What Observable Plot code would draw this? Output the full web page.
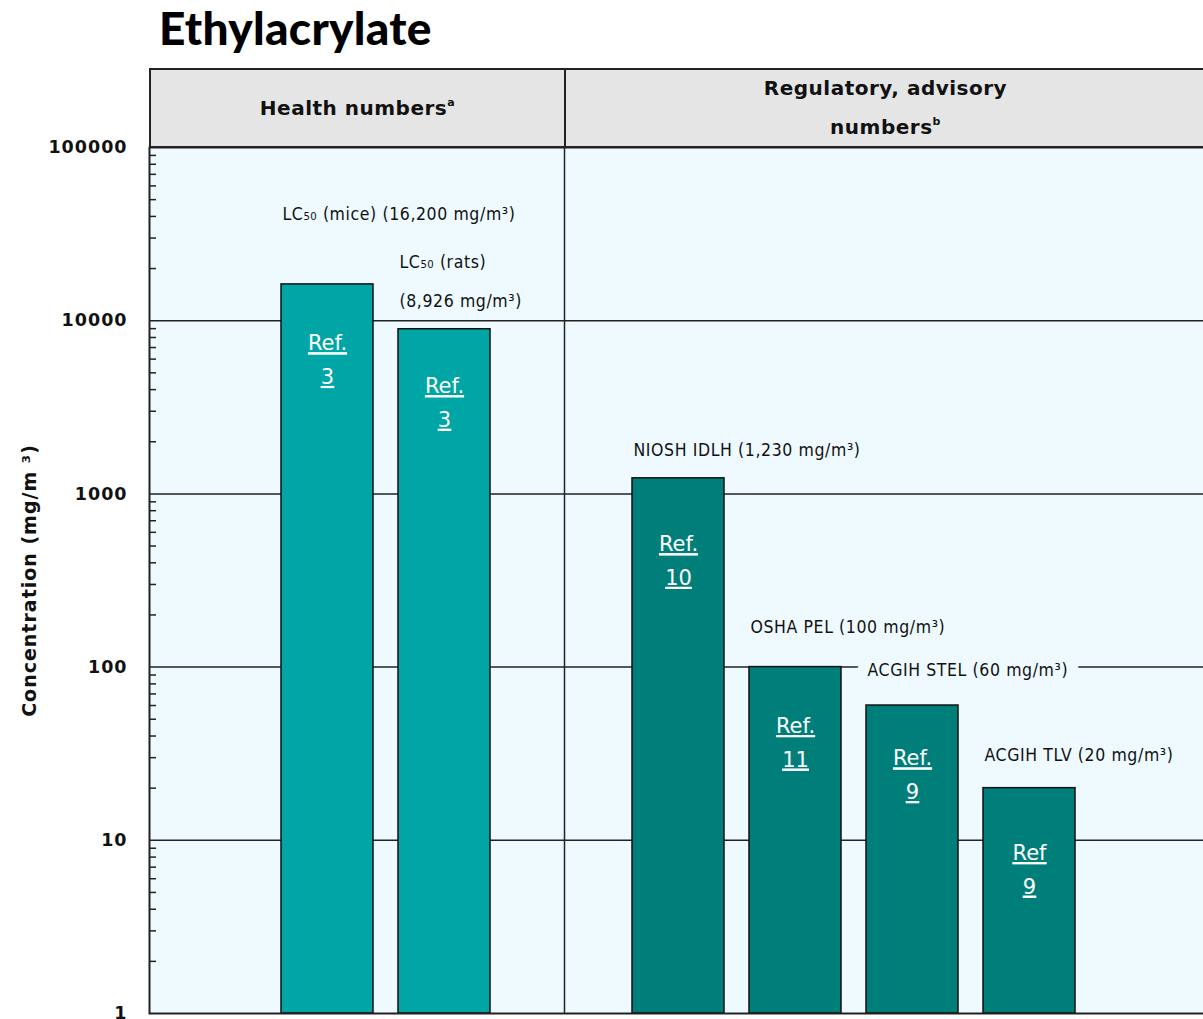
<!DOCTYPE html>
<html>
<head>
<meta charset="utf-8">
<script src="https://cdn.jsdelivr.net/npm/d3@7"></script>
<script src="https://cdn.jsdelivr.net/npm/@observablehq/plot@0.6"></script>
<style>
  html, body { margin: 0; padding: 0; background: #fff; }
  body { width: 1203px; height: 1019px; overflow: hidden; position: relative; font-family: "DejaVu Sans", sans-serif; }
  #title { position: absolute; left: 159px; top: 0px; font-family: Lato, sans-serif; font-weight: 900; font-size: 46px; color: #000; letter-spacing: 0.3px; }
  #chart { position: absolute; left: 0; top: 0; }
  #chart svg { max-width: none !important; }
  #header { position: absolute; left: 149px; top: 68px; width: 1070px; height: 80px; box-sizing: border-box;
            background: #e5e5e5; border-top: 2px solid #222; border-left: 2px solid #222; border-bottom: 2px solid #222; display: flex; }
  #header .cell { display: flex; align-items: center; justify-content: center; text-align: center;
            font-family: "DejaVu Sans", sans-serif; font-weight: bold; font-size: 20px; letter-spacing: 0.5px; line-height: 39px; color: #111; box-sizing: border-box; }
  #header .cell sup { font-size: 11px; line-height: 0; vertical-align: 9px; }
  #header .left { width: 415px; border-right: 2px solid #222; }
  #header .right { width: 639px; }
  g[fill="#fff"] text, g[fill="#fff"] tspan { text-decoration: underline; }
  g.labels text { letter-spacing: 0.6px; }
  g[font-weight="bold"] text { letter-spacing: 1px; }
</style>
</head>
<body>
<div id="title"></div>
<div id="chart"></div>
<div id="header"><div class="cell left"><span id="h0"></span></div><div class="cell right"><span id="h1"></span></div></div>
<script>
// ---- data ----
const titleText = "Ethylacrylate";
const headerTexts = ["Health numbers", "Regulatory, advisory\nnumbers"];
const headerNotes = ["a", "b"];
const categories = ["LC50 (mice)", "LC50 (rats)", "NIOSH IDLH", "OSHA PEL", "ACGIH STEL", "ACGIH TLV"];
const groups = ["Health", "Health", "Regulatory", "Regulatory", "Regulatory", "Regulatory"];
const values = [16200, 8926, 1230, 100, 60, 20];
const barLabels = [
  "LC\u2085\u2080 (mice) (16,200 mg/m\u00b3)",
  "LC\u2085\u2080 (rats)\n(8,926 mg/m\u00b3)",
  "NIOSH IDLH (1,230 mg/m\u00b3)",
  "OSHA PEL (100 mg/m\u00b3)",
  "ACGIH STEL (60 mg/m\u00b3)",
  "ACGIH TLV (20 mg/m\u00b3)"
];
const refLabels = ["Ref.\n3", "Ref.\n3", "Ref.\n10", "Ref.\n11", "Ref.\n9", "Ref\n9"];
const slots = ["pad0", "LC50 (mice)", "LC50 (rats)", "divider", "NIOSH IDLH", "OSHA PEL", "ACGIH STEL", "ACGIH TLV", "pad1"];
const dividerSlot = ["divider"];
const yTickValues = [1, 10, 100, 1000, 10000, 100000];
const gridValues = [10, 100, 1000, 10000];
const yLabel = "Concentration (mg/m \u00b3)";
const groupNames = ["Health", "Regulatory"];

// ---- layout / style (not data) ----
const groupColors = ["#00a6a6", "#007f7a"];
const labelDy = [-70, -54, -28, -40, -35, -33];
const labelLineHeight = [1, 2.2, 1, 1, 1, 1];
const refDy = [72, 70, 79, 72, 66, 78];

const minorTicks = [];
for (let k = 0; k < 5; k++) for (let m = 2; m <= 9; m++) minorTicks.push(m * Math.pow(10, k));

const data = categories.map((c, i) => ({name: c, group: groups[i], value: values[i], label: barLabels[i], ref: refLabels[i]}));

document.getElementById("title").textContent = titleText;
headerTexts.forEach((t, i) => {
  const el = document.getElementById("h" + i);
  const lines = t.split("\n");
  el.innerHTML = lines.map((l, j) => j === lines.length - 1 ? `${l}<sup>${headerNotes[i]}</sup>` : l).join("<br>");
});

const labelFont = {fontFamily: "DejaVu Sans Condensed", fontSize: 17.5, fill: "#111"};

const labelMarks = data.map((d, i) => Plot.text([d], {
  x: "name", y: "value", text: "label", className: "labels",
  textAnchor: "start", lineAnchor: "middle", dx: -45, dy: labelDy[i],
  lineHeight: labelLineHeight[i], ...labelFont,
  ...(d.name === "ACGIH STEL" ? {stroke: "#eefaff", strokeWidth: 24} : {})
}));

const refMarks = data.map((d, i) => Plot.text([d], {
  x: "name", y: "value", text: "ref",
  textAnchor: "middle", lineAnchor: "middle", dy: refDy[i], lineHeight: 1.6,
  fontFamily: "DejaVu Sans", fontSize: 21, fill: "#fff"
}));

const chart = Plot.plot({
  width: 1208, height: 1019,
  marginTop: 147, marginBottom: 6, marginLeft: 149, marginRight: 0,
  style: {maxWidth: "none"},
  x: {type: "band", domain: slots, paddingInner: 0.21, paddingOuter: 0.105, axis: null},
  y: {type: "log", domain: [1, 100000], axis: null},
  color: {domain: groupNames, range: groupColors},
  marks: [
    Plot.frame({fill: "#eefaff"}),
    Plot.ruleY(gridValues, {stroke: "#222", strokeWidth: 1.5}),
    Plot.ruleX(dividerSlot, {stroke: "#222", strokeWidth: 1.5, dx: 3}),
    Plot.barY(data, {x: "name", y1: 1, y2: "value", fill: "group", stroke: "#111", strokeWidth: 1.5}),
    ...labelMarks,
    ...refMarks,
    Plot.axisY({ticks: minorTicks, tickSize: -7, tickFormat: () => "", label: null, stroke: "#222", strokeWidth: 1.5}),
    Plot.axisY({ticks: yTickValues, tickSize: 0, tickPadding: 22, tickFormat: d => String(d), label: null,
      fontFamily: "DejaVu Sans", fontWeight: "bold", fontSize: 17.5, fill: "#111"}),
    Plot.text([yLabel], {frameAnchor: "left", textAnchor: "middle", rotate: -90, dx: -120, dy: 0,
      fontFamily: "DejaVu Sans", fontWeight: "bold", fontSize: 19, fill: "#111"}),
    Plot.frame({stroke: "#222", strokeWidth: 2})
  ]
});
document.getElementById("chart").appendChild(chart);
</script>
</body>
</html>
